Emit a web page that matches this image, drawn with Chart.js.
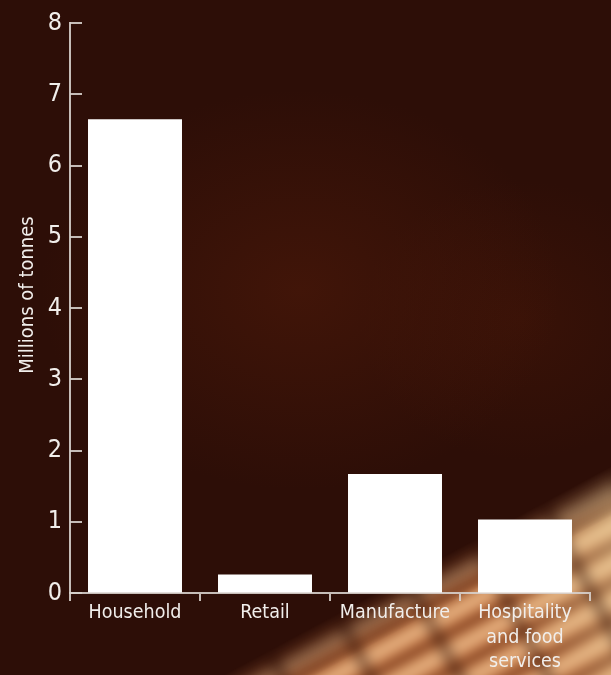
<!DOCTYPE html>
<html lang="en">
    <head>
        <meta charset="UTF-8" />
        <title>Food waste by sector</title>
        <script src="https://cdn.jsdelivr.net/npm/chart.js@4.4.1/dist/chart.umd.min.js"></script>
        <style>
            html, body { margin: 0; padding: 0; }
            body {
                width: 611px; height: 675px; overflow: hidden; position: relative;
                background:
                    radial-gradient(ellipse 260px 200px at 300px 290px, rgba(85, 28, 10, 0.5), rgba(85, 28, 10, 0) 100%),
                    radial-gradient(ellipse 160px 140px at 520px 320px, rgba(75, 24, 8, 0.4), rgba(75, 24, 8, 0) 100%),
                    #2d0e07;
            }
            #photo {
                position: absolute; left: -40px; top: -40px; width: 691px; height: 755px;
                -webkit-mask-image: linear-gradient(151.7deg, transparent 76%, #000 80.5%);
                mask-image: linear-gradient(151.7deg, transparent 76%, #000 80.5%);
            }
            #photo div {
                position: absolute; left: 0; top: 0; width: 100%; height: 100%;
                background:
                    repeating-linear-gradient(61.7deg, rgba(50, 18, 6, 0) 0px, rgba(50, 18, 6, 0) 58px, rgba(50, 18, 6, 0.55) 68px, rgba(50, 18, 6, 0) 78px),
                    linear-gradient(61.7deg, rgba(0,0,0,0) 55%, rgba(235, 232, 180, 0.5) 74%, rgba(220, 170, 110, 0.25) 92%),
                    repeating-linear-gradient(151.7deg, #5a2410 0px, #c97c48 6px, #e8b888 14px, #dca070 22px, #c2703c 28px, #5a2410 33px);
                filter: blur(6px);
            }
            #wrap { position: absolute; left: 0; top: 0; width: 611px; height: 675px; }
        </style>
    </head>
    <body>
        <div id="photo"><div></div></div>
        <div id="wrap"><canvas id="mychart" width="611" height="675"></canvas></div>
        <script>
            const categories = ["Household", "Retail", "Manufacture", ["Hospitality", "and food", "services"]];
            const tonnes = [6.65, 0.26, 1.67, 1.03];
            const yMin = 0;
            const yMax = 8;
            const yStep = 1;
            const yTitle = "Millions of tonnes";

            const fontName = "'DejaVu Sans Condensed', 'DejaVu Sans', Roboto, sans-serif";
            const textColour = "#f1eeeb";
            const axisColour = "rgba(215, 208, 204, 0.9)";

            // y ticks point into the plot and the axis title sits a bit above centre
            const axisExtras = {
                id: "axisExtras",
                afterDraw(chart) {
                    const ctx = chart.ctx;
                    const y = chart.scales.y;
                    const left = chart.chartArea.left;
                    ctx.save();
                    ctx.strokeStyle = axisColour;
                    ctx.lineWidth = 2;
                    y.ticks.forEach(t => {
                        const py = Math.round(y.getPixelForValue(t.value));
                        ctx.beginPath();
                        ctx.moveTo(left, py);
                        ctx.lineTo(left + 12, py);
                        ctx.stroke();
                    });
                    ctx.translate(28, 295);
                    ctx.rotate(-Math.PI / 2);
                    ctx.fillStyle = textColour;
                    ctx.font = "20px " + fontName;
                    ctx.textAlign = "center";
                    ctx.textBaseline = "middle";
                    ctx.fillText(yTitle, 0, 0);
                    ctx.restore();
                }
            };

            const ctx = document.getElementById("mychart").getContext("2d");

            const myChart = new Chart(ctx, {
                type: "bar",
                data: {
                    labels: categories,
                    datasets: [
                        {
                            label: yTitle,
                            data: tonnes,
                            backgroundColor: "#ffffff",
                            borderWidth: 0,
                            categoryPercentage: 1,
                            barPercentage: 0.723
                        }
                    ]
                },
                options: {
                    responsive: false,
                    animation: false,
                    layout: { padding: { left: 0, right: 21, top: 18, bottom: 0 } },
                    plugins: {
                        legend: { display: false },
                        tooltip: { enabled: false }
                    },
                    scales: {
                        x: {
                            z: 1,
                            offset: true,
                            grid: {
                                display: true,
                                drawOnChartArea: false,
                                drawTicks: true,
                                tickLength: 8,
                                color: axisColour,
                                lineWidth: 2
                            },
                            border: { display: true, color: axisColour, width: 2 },
                            ticks: {
                                color: textColour,
                                font: { family: fontName, size: 19.5, lineHeight: 1.28 },
                                padding: -1,
                                maxRotation: 0,
                                autoSkip: false
                            },
                            afterFit(scale) { scale.height = 82; }
                        },
                        y: {
                            min: yMin,
                            max: yMax,
                            grid: {
                                display: true,
                                drawOnChartArea: false,
                                drawTicks: false
                            },
                            border: { display: true, color: axisColour, width: 2 },
                            ticks: {
                                stepSize: yStep,
                                color: textColour,
                                font: { family: fontName, size: 25 },
                                padding: 8
                            },
                            afterFit(scale) { scale.width = 70; }
                        }
                    }
                },
                plugins: [axisExtras]
            });
        </script>
    </body>
</html>
